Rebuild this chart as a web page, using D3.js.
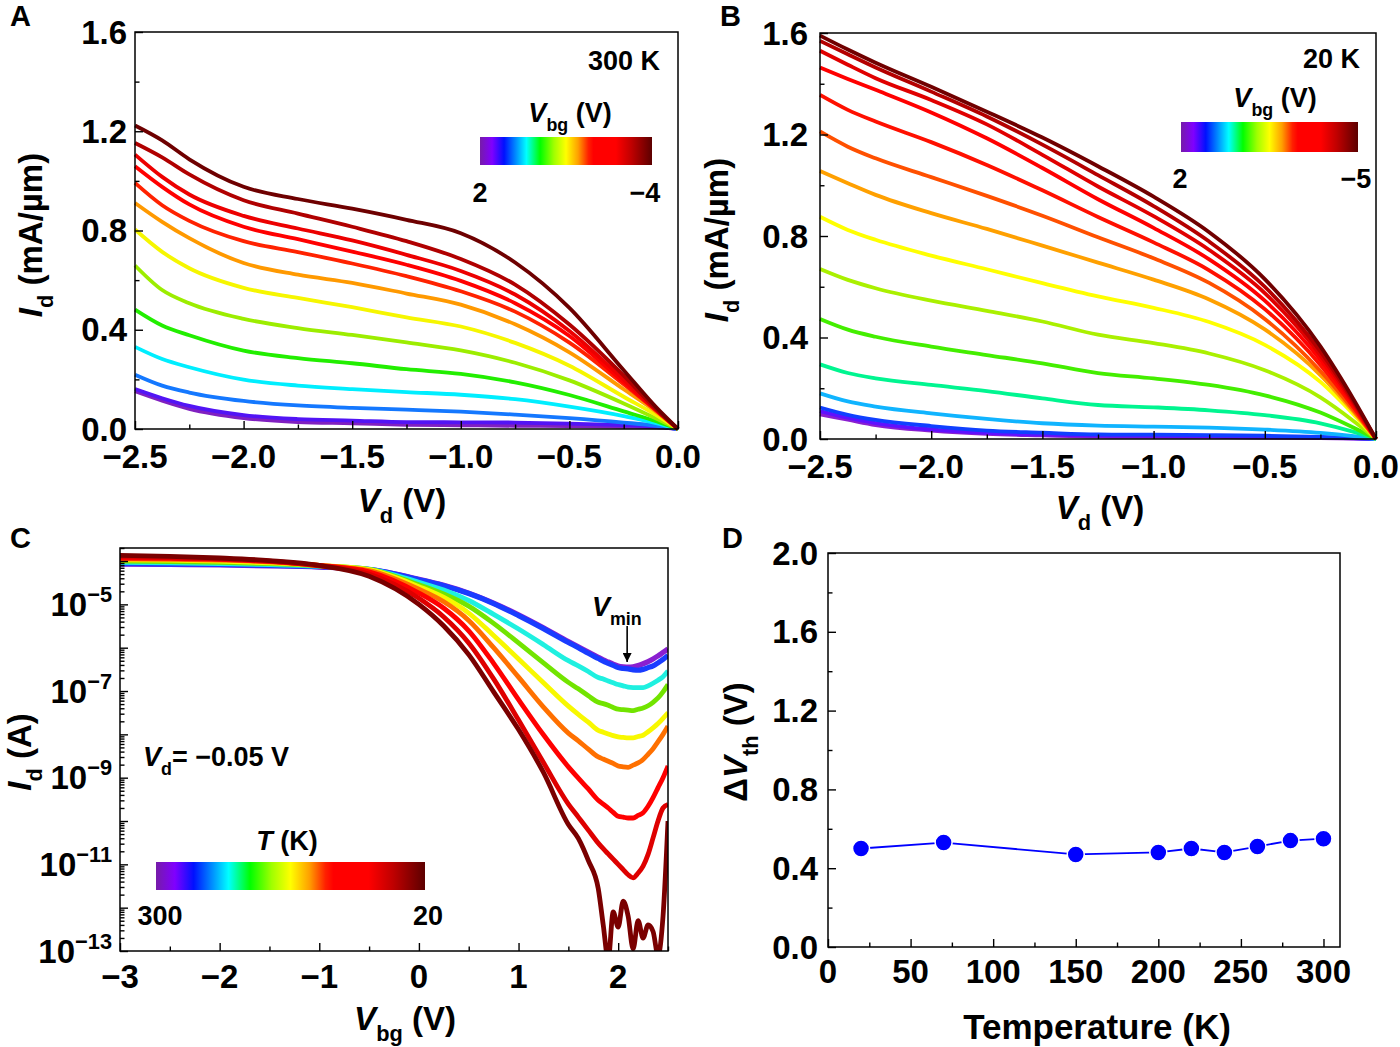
<!DOCTYPE html>
<html><head><meta charset="utf-8">
<script src="https://cdn.jsdelivr.net/npm/d3@7"></script>
<style>body{margin:0;background:#fff}</style>
</head><body>
<svg id="fig" width="1400" height="1047" xmlns="http://www.w3.org/2000/svg"></svg>
<script>
// ---------------- DATA ----------------
const vdGrid = [-2.5,-2.375,-2.25,-2.0,-1.75,-1.5,-1.25,-1.0,-0.75,-0.5,-0.25,-0.1,0];

// Panel A (300 K)
const vbgA = [2,1.5,1,0.5,0,-0.5,-1,-1.5,-2,-2.5,-3,-3.5,-4];
const idA = [
 [0.152,0.114,0.081,0.044,0.028,0.023,0.017,0.015,0.013,0.012,0.009,0.007,0],
 [0.161,0.124,0.093,0.056,0.040,0.034,0.028,0.027,0.026,0.022,0.016,0.011,0],
 [0.219,0.175,0.147,0.113,0.095,0.085,0.078,0.070,0.058,0.044,0.026,0.013,0],
 [0.331,0.282,0.249,0.199,0.175,0.161,0.149,0.138,0.120,0.090,0.052,0.024,0],
 [0.481,0.417,0.378,0.316,0.286,0.265,0.241,0.222,0.188,0.137,0.071,0.031,0],
 [0.659,0.560,0.507,0.444,0.407,0.379,0.349,0.317,0.267,0.196,0.103,0.042,0],
 [0.804,0.714,0.648,0.569,0.528,0.491,0.450,0.413,0.347,0.255,0.130,0.056,0],
 [0.911,0.835,0.769,0.669,0.622,0.589,0.546,0.501,0.422,0.309,0.160,0.069,0],
 [0.992,0.902,0.839,0.757,0.713,0.667,0.616,0.555,0.473,0.348,0.180,0.074,0],
 [1.059,0.976,0.905,0.815,0.765,0.715,0.662,0.597,0.507,0.375,0.188,0.075,0],
 [1.106,1.016,0.945,0.859,0.808,0.760,0.702,0.637,0.542,0.395,0.199,0.077,0],
 [1.153,1.095,1.026,0.922,0.868,0.815,0.757,0.685,0.582,0.421,0.215,0.079,0],
 [1.223,1.163,1.087,0.976,0.927,0.888,0.843,0.789,0.671,0.488,0.237,0.087,0]
];
const colorA = ["#8020c0","#5214f5","#1478ff","#00eeff","#22ee00","#9ced00","#f6f600","#ff9900","#ff2200","#ff0000","#ec0000","#b00000","#6e0000"];

// Panel B (20 K)
const vbgB = [2,1.5,1,0.5,0,-0.5,-1,-1.5,-2,-2.5,-3,-3.5,-4,-4.5,-5];
const idB = [
 [0.097,0.076,0.055,0.033,0.020,0.014,0.009,0.008,0.008,0.006,0.004,0.002,0],
 [0.110,0.084,0.063,0.038,0.024,0.017,0.013,0.012,0.011,0.009,0.006,0.003,0],
 [0.124,0.095,0.075,0.051,0.033,0.025,0.018,0.017,0.015,0.013,0.008,0.004,0],
 [0.180,0.148,0.128,0.101,0.079,0.062,0.053,0.049,0.045,0.037,0.024,0.011,0],
 [0.294,0.260,0.239,0.213,0.189,0.160,0.134,0.125,0.113,0.094,0.062,0.028,0],
 [0.473,0.431,0.403,0.364,0.331,0.298,0.260,0.239,0.213,0.172,0.104,0.044,0],
 [0.670,0.627,0.594,0.545,0.505,0.463,0.411,0.378,0.337,0.271,0.164,0.070,0],
 [0.876,0.824,0.785,0.723,0.669,0.614,0.562,0.517,0.461,0.371,0.225,0.096,0],
 [1.056,1.008,0.962,0.890,0.828,0.762,0.695,0.628,0.550,0.432,0.252,0.106,0],
 [1.212,1.152,1.106,1.032,0.958,0.880,0.795,0.712,0.615,0.473,0.268,0.113,0],
 [1.356,1.297,1.251,1.170,1.080,0.980,0.875,0.775,0.665,0.512,0.292,0.124,0],
 [1.464,1.419,1.376,1.287,1.185,1.068,0.945,0.832,0.708,0.545,0.312,0.133,0],
 [1.530,1.475,1.422,1.336,1.240,1.120,0.995,0.878,0.745,0.575,0.330,0.140,0],
 [1.569,1.516,1.464,1.369,1.271,1.160,1.040,0.918,0.778,0.600,0.345,0.147,0],
 [1.590,1.535,1.483,1.388,1.290,1.188,1.075,0.955,0.815,0.630,0.365,0.155,0]
];
const colorB = ["#8a1fd0","#6010ff","#1040ff","#10b4ff","#00f590","#44ee00","#aaf000","#ffff00","#ffa000","#ff5000","#ff1000","#ff0000","#e00000","#b40000","#700000"];

// Panel C (log10 of Id in A)
const vbgC = [-3,-2.5,-2,-1.5,-1,-0.5,0,0.25,0.5,0.75,1,1.25,1.5,1.6,1.7,1.8,1.85,1.9,1.95,2,2.05,2.1,2.15,2.2,2.25,2.3,2.35,2.4,2.45,2.5];
const tempC = [300,280,260,240,220,200,150,70,20];
const logIdC = [
 [-4.07,-4.08,-4.09,-4.11,-4.14,-4.20,-4.42,-4.56,-4.74,-4.97,-5.24,-5.54,-5.86,-5.98,-6.10,-6.22,-6.28,-6.33,-6.38,-6.42,-6.44,-6.45,-6.44,-6.41,-6.37,-6.32,-6.26,-6.19,-6.11,-6.03],
 [-4.06,-4.07,-4.08,-4.10,-4.13,-4.19,-4.43,-4.57,-4.75,-4.98,-5.26,-5.56,-5.88,-6.00,-6.13,-6.25,-6.31,-6.36,-6.41,-6.46,-6.48,-6.49,-6.51,-6.52,-6.50,-6.46,-6.42,-6.35,-6.27,-6.18],
 [-4.03,-4.04,-4.06,-4.08,-4.12,-4.19,-4.49,-4.67,-4.91,-5.23,-5.57,-5.93,-6.30,-6.42,-6.55,-6.69,-6.72,-6.77,-6.81,-6.85,-6.88,-6.91,-6.92,-6.92,-6.92,-6.88,-6.82,-6.75,-6.67,-6.54],
 [-4.00,-4.01,-4.03,-4.06,-4.11,-4.19,-4.55,-4.76,-5.04,-5.44,-5.89,-6.35,-6.80,-6.95,-7.11,-7.26,-7.29,-7.33,-7.38,-7.42,-7.43,-7.44,-7.45,-7.42,-7.39,-7.34,-7.26,-7.16,-7.02,-6.85],
 [-3.97,-3.98,-4.00,-4.04,-4.10,-4.20,-4.59,-4.84,-5.20,-5.72,-6.26,-6.81,-7.35,-7.54,-7.72,-7.91,-7.95,-7.99,-8.03,-8.06,-8.07,-8.08,-8.08,-8.05,-8.02,-7.94,-7.85,-7.75,-7.63,-7.50],
 [-3.95,-3.96,-3.98,-4.02,-4.10,-4.22,-4.65,-4.94,-5.37,-6.00,-6.68,-7.37,-7.97,-8.15,-8.34,-8.52,-8.57,-8.62,-8.67,-8.73,-8.75,-8.76,-8.71,-8.66,-8.58,-8.46,-8.33,-8.17,-8.00,-7.81],
 [-3.93,-3.94,-3.96,-4.01,-4.10,-4.25,-4.74,-5.09,-5.61,-6.36,-7.20,-8.01,-8.75,-9.01,-9.26,-9.52,-9.61,-9.70,-9.80,-9.89,-9.91,-9.93,-9.93,-9.87,-9.81,-9.66,-9.46,-9.23,-9.00,-8.73],
 [-3.90,-3.92,-3.95,-4.00,-4.11,-4.30,-4.86,-5.29,-5.89,-6.72,-7.67,-8.65,-9.61,-9.91,-10.21,-10.51,-10.64,-10.76,-10.88,-11.00,-11.12,-11.24,-11.31,-11.20,-11.04,-10.77,-10.39,-10.00,-9.70,-9.62],
 [-3.87,-3.89,-3.93,-3.99,-4.10,-4.35,-5.00,-5.50,-6.16,-7.02,-7.89,-8.88,-10.08,-10.40,-10.91,-11.56,-12.40,-13.20,-12.10,-12.45,-11.85,-12.20,-12.95,-12.30,-12.70,-12.40,-12.55,-13.10,-12.20,-10.00]
];
const colorC = ["#8a1fd0","#1a3cff","#1ff0e0","#72e400","#f8f800","#ff7000","#ff0000","#de0000","#7a0000"];

// Panel D
const tempD = [20,70,150,200,220,240,260,280,300];
const dVthD = [0.50,0.53,0.47,0.48,0.50,0.48,0.51,0.54,0.55];

// Colour bar map
const cmapPos = [0,0.07,0.14,0.21,0.27,0.35,0.43,0.5,0.57,0.63,0.66,0.79,0.88,1];
const cmapCol = ["#761ca8","#8000ff","#0010ff","#0090ff","#00ffff","#00ff00","#a0ff00","#ffff00","#ffa000","#ff2000","#ff0000","#ff0000","#c00000","#5c0000"];

// Tick values
const ticksVd = [-2.5,-2.0,-1.5,-1.0,-0.5,0.0];
const ticksVdMinor = [-2.25,-1.75,-1.25,-0.75,-0.25];
const ticksI = [0,0.4,0.8,1.2,1.6];
const ticksIMinor = [0.2,0.6,1.0,1.4];
const ticksVbg = [-3,-2,-1,0,1,2];
const ticksVbgMinor = [-2.5,-1.5,-0.5,0.5,1.5,2.5];
const decadesC = [-13,-12,-11,-10,-9,-8,-7,-6,-5,-4];
const labelDecadesC = [-13,-11,-9,-7,-5];
const ticksT = [0,50,100,150,200,250,300];
const ticksTMinor = [25,75,125,175,225,275];
const ticksDV = [0,0.4,0.8,1.2,1.6,2.0];
const ticksDVMinor = [0.2,0.6,1.0,1.4,1.8];

// ---------------- DRAWING ----------------
const F = '"Liberation Sans", Arial, Helvetica, sans-serif';
const svg = d3.select("#fig");
const defs = svg.append("defs");
const fmt1 = d3.format(".1f");

function rich(x, y, parts, opt = {}) {
  const size = opt.size || 33, anchor = opt.anchor || "middle", rot = opt.rotate || 0;
  const t = svg.append("text").attr("font-family", F).attr("font-weight", "bold")
    .attr("font-size", size).attr("text-anchor", anchor)
    .attr("transform", `translate(${x},${y}) rotate(${rot})`);
  let shift = 0;
  parts.forEach(p => {
    const ts = t.append("tspan").text(p.t);
    if (p.it) ts.attr("font-style", "italic");
    const target = p.sub ? size * 0.32 : p.sup ? -size * 0.42 : 0;
    if (target !== shift) { ts.attr("dy", target - shift); shift = target; }
    if (p.sub || p.sup) ts.attr("font-size", size * 0.66);
  });
  return t;
}

function frame(x, y) {
  const [x0, x1] = x.range(), [y1, y0] = y.range();
  svg.append("rect").attr("x", x0).attr("y", y0).attr("width", x1 - x0).attr("height", y1 - y0)
    .attr("fill", "none").attr("stroke", "#000").attr("stroke-width", 1.5);
}

function ticks(x, y, xMaj, xMin, yMaj, yMin) {
  const yb = y.range()[0], xl = x.range()[0];
  const put = (axis) => (g) => { g.call(axis); g.select(".domain").remove(); g.selectAll("line").attr("stroke", "#000").attr("stroke-width", 1.4); };
  svg.append("g").attr("transform", `translate(0,${yb})`).call(put(d3.axisBottom(x).tickValues(xMaj).tickSize(-8).tickFormat("")));
  svg.append("g").attr("transform", `translate(0,${yb})`).call(put(d3.axisBottom(x).tickValues(xMin).tickSize(-4.5).tickFormat("")));
  svg.append("g").attr("transform", `translate(${xl},0)`).call(put(d3.axisLeft(y).tickValues(yMaj).tickSize(-8).tickFormat("")));
  svg.append("g").attr("transform", `translate(${xl},0)`).call(put(d3.axisLeft(y).tickValues(yMin).tickSize(-4.5).tickFormat("")));
}

function xLabels(x, y, vals, f, dyBase = 37) {
  const yb = y.range()[0];
  vals.forEach(v => svg.append("text").attr("x", x(v)).attr("y", yb + dyBase)
    .attr("text-anchor", "middle").attr("font-family", F).attr("font-weight", "bold")
    .attr("font-size", 33).text(f(v)));
}
function yLabels(x, y, vals, f, gap) {
  const xl = x.range()[0];
  vals.forEach(v => svg.append("text").attr("x", xl - gap).attr("y", y(v) + 11.5)
    .attr("text-anchor", "end").attr("font-family", F).attr("font-weight", "bold")
    .attr("font-size", 33).text(f(v)));
}

function colorbar(id, x, y, w, h) {
  const g = defs.append("linearGradient").attr("id", id).attr("x1", "0").attr("x2", "1").attr("y1", "0").attr("y2", "0");
  cmapPos.forEach((p, i) => g.append("stop").attr("offset", p).attr("stop-color", cmapCol[i]));
  svg.append("rect").attr("x", x).attr("y", y).attr("width", w).attr("height", h).attr("fill", `url(#${id})`);
}

function plain(x, y, s, size, anchor = "middle") {
  return svg.append("text").attr("x", x).attr("y", y).attr("text-anchor", anchor)
    .attr("font-family", F).attr("font-weight", "bold").attr("font-size", size).text(s);
}

// ---- Panel A ----
const xA = d3.scaleLinear([-2.5, 0], [135, 678]);
const yA = d3.scaleLinear([0, 1.6], [429, 32]);
const lineA = d3.line().x(d => xA(d[0])).y(d => yA(d[1])).curve(d3.curveMonotoneX);
idA.forEach((row, i) => svg.append("path").attr("d", lineA(vdGrid.map((v, j) => [v, row[j]])))
  .attr("fill", "none").attr("stroke", colorA[i]).attr("stroke-width", 3.8).attr("stroke-linejoin", "round"));
frame(xA, yA);
ticks(xA, yA, ticksVd, ticksVdMinor, ticksI, ticksIMinor);
xLabels(xA, yA, ticksVd, fmt1, 39);
yLabels(xA, yA, ticksI, fmt1, 8);
rich(42, 235, [{t:"I", it:true}, {t:"d", sub:true}, {t:" (mA/µm)"}], {rotate:-90});
rich(402, 512, [{t:"V", it:true}, {t:"d", sub:true}, {t:" (V)"}]);
plain(660, 70, "300 K", 27, "end");
rich(570, 122, [{t:"V", it:true}, {t:"bg", sub:true}, {t:" (V)"}], {size:27});
colorbar("cbA", 480, 137, 172, 28);
plain(480, 202, "2", 27);
plain(645, 202, "\u22124", 27);
plain(10, 26, "A", 29, "start");

// ---- Panel B ----
const xB = d3.scaleLinear([-2.5, 0], [820, 1376]);
const yB = d3.scaleLinear([0, 1.6], [439, 33]);
const lineB = d3.line().x(d => xB(d[0])).y(d => yB(d[1])).curve(d3.curveMonotoneX);
idB.forEach((row, i) => svg.append("path").attr("d", lineB(vdGrid.map((v, j) => [v, row[j]])))
  .attr("fill", "none").attr("stroke", colorB[i]).attr("stroke-width", 3.8).attr("stroke-linejoin", "round"));
frame(xB, yB);
ticks(xB, yB, ticksVd, ticksVdMinor, ticksI, ticksIMinor);
xLabels(xB, yB, ticksVd, fmt1, 39);
yLabels(xB, yB, ticksI, fmt1, 12);
rich(728, 240, [{t:"I", it:true}, {t:"d", sub:true}, {t:" (mA/µm)"}], {rotate:-90});
rich(1100, 519, [{t:"V", it:true}, {t:"d", sub:true}, {t:" (V)"}]);
plain(1360, 68, "20 K", 27, "end");
rich(1275, 107, [{t:"V", it:true}, {t:"bg", sub:true}, {t:" (V)"}], {size:27});
colorbar("cbB", 1181, 122, 177, 30);
plain(1180, 188, "2", 27);
plain(1356, 188, "\u22125", 27);
plain(720, 26, "B", 29, "start");

// ---- Panel C ----
const xC = d3.scaleLinear([-3, 2.5], [120, 668]);
const yC = d3.scaleLog([1e-13, 2e-4], [951, 548]);
defs.append("clipPath").attr("id", "clipC").append("rect").attr("x", 120).attr("y", 548).attr("width", 548).attr("height", 403);
const lineC = d3.line().x(d => xC(d[0])).y(d => yC(Math.pow(10, d[1]))).curve(d3.curveMonotoneX);
const gC = svg.append("g").attr("clip-path", "url(#clipC)");
logIdC.forEach((row, i) => gC.append("path").attr("d", lineC(vbgC.map((v, j) => [v, row[j]])))
  .attr("fill", "none").attr("stroke", colorC[i]).attr("stroke-width", i < 2 ? 5.2 : 4.8).attr("stroke-linejoin", "round"));
frame(xC, yC);
const majC = decadesC.map(e => Math.pow(10, e));
const minC = [];
decadesC.forEach(e => { for (let k = 2; k <= 9; k++) { const v = k * Math.pow(10, e); if (v <= 2e-4) minC.push(v); } });
ticks(xC, yC, ticksVbg, ticksVbgMinor, majC, minC);
xLabels(xC, yC, ticksVbg, d3.format("d"), 37);
labelDecadesC.forEach(e => rich(112, yC(Math.pow(10, e)) + 11.5, [{t:"10"}, {t:"\u2212" + Math.abs(e), sup:true}], {size:33, anchor:"end"}));
rich(31, 752, [{t:"I", it:true}, {t:"d", sub:true}, {t:" (A)"}], {rotate:-90});
rich(405, 1030, [{t:"V", it:true}, {t:"bg", sub:true}, {t:" (V)"}]);
rich(143, 766, [{t:"V", it:true}, {t:"d", sub:true}, {t:"= \u22120.05 V"}], {size:27, anchor:"start"});
rich(287, 850, [{t:"T", it:true}, {t:" (K)"}], {size:27});
colorbar("cbC", 156, 862, 269, 28);
plain(160, 925, "300", 27);
plain(428, 925, "20", 27);
rich(592, 616, [{t:"V", it:true}, {t:"min", sub:true}], {size:27, anchor:"start"});
defs.append("marker").attr("id", "arr").attr("viewBox", "0 0 10 10").attr("refX", 10).attr("refY", 5)
  .attr("markerWidth", 9).attr("markerHeight", 9).attr("markerUnits", "userSpaceOnUse").attr("orient", "auto")
  .append("path").attr("d", "M0,0 L10,5 L0,10 Z").attr("fill", "#000");
svg.append("line").attr("x1", xC(2.09)).attr("x2", xC(2.09)).attr("y1", yC(Math.pow(10, -5.5))).attr("y2", yC(Math.pow(10, -6.33)))
  .attr("stroke", "#000").attr("stroke-width", 1.6).attr("marker-end", "url(#arr)");
plain(10, 548, "C", 29, "start");

// ---- Panel D ----
const xD = d3.scaleLinear([0, 310], [828, 1340]);
const yD = d3.scaleLinear([0, 2], [947, 553]);
frame(xD, yD);
ticks(xD, yD, ticksT, ticksTMinor, ticksDV, ticksDVMinor);
xLabels(xD, yD, ticksT, d3.format("d"), 36);
yLabels(xD, yD, ticksDV, fmt1, 10);
svg.append("path").attr("d", d3.line().x((d, i) => xD(tempD[i])).y(d => yD(d))(dVthD))
  .attr("fill", "none").attr("stroke", "#0000ff").attr("stroke-width", 1.8);
svg.selectAll(".dot").data(dVthD).enter().append("circle")
  .attr("cx", (d, i) => xD(tempD[i])).attr("cy", d => yD(d)).attr("r", 8.5)
  .attr("fill", "#0000ff").attr("stroke", "#fff").attr("stroke-width", 1.5);
rich(747, 742, [{t:"\u0394"}, {t:"V", it:true}, {t:"th", sub:true}, {t:" (V)"}], {rotate:-90});
rich(1097, 1039, [{t:"Temperature (K)"}], {size:35});
plain(722, 548, "D", 29, "start");
</script>
</body></html>
